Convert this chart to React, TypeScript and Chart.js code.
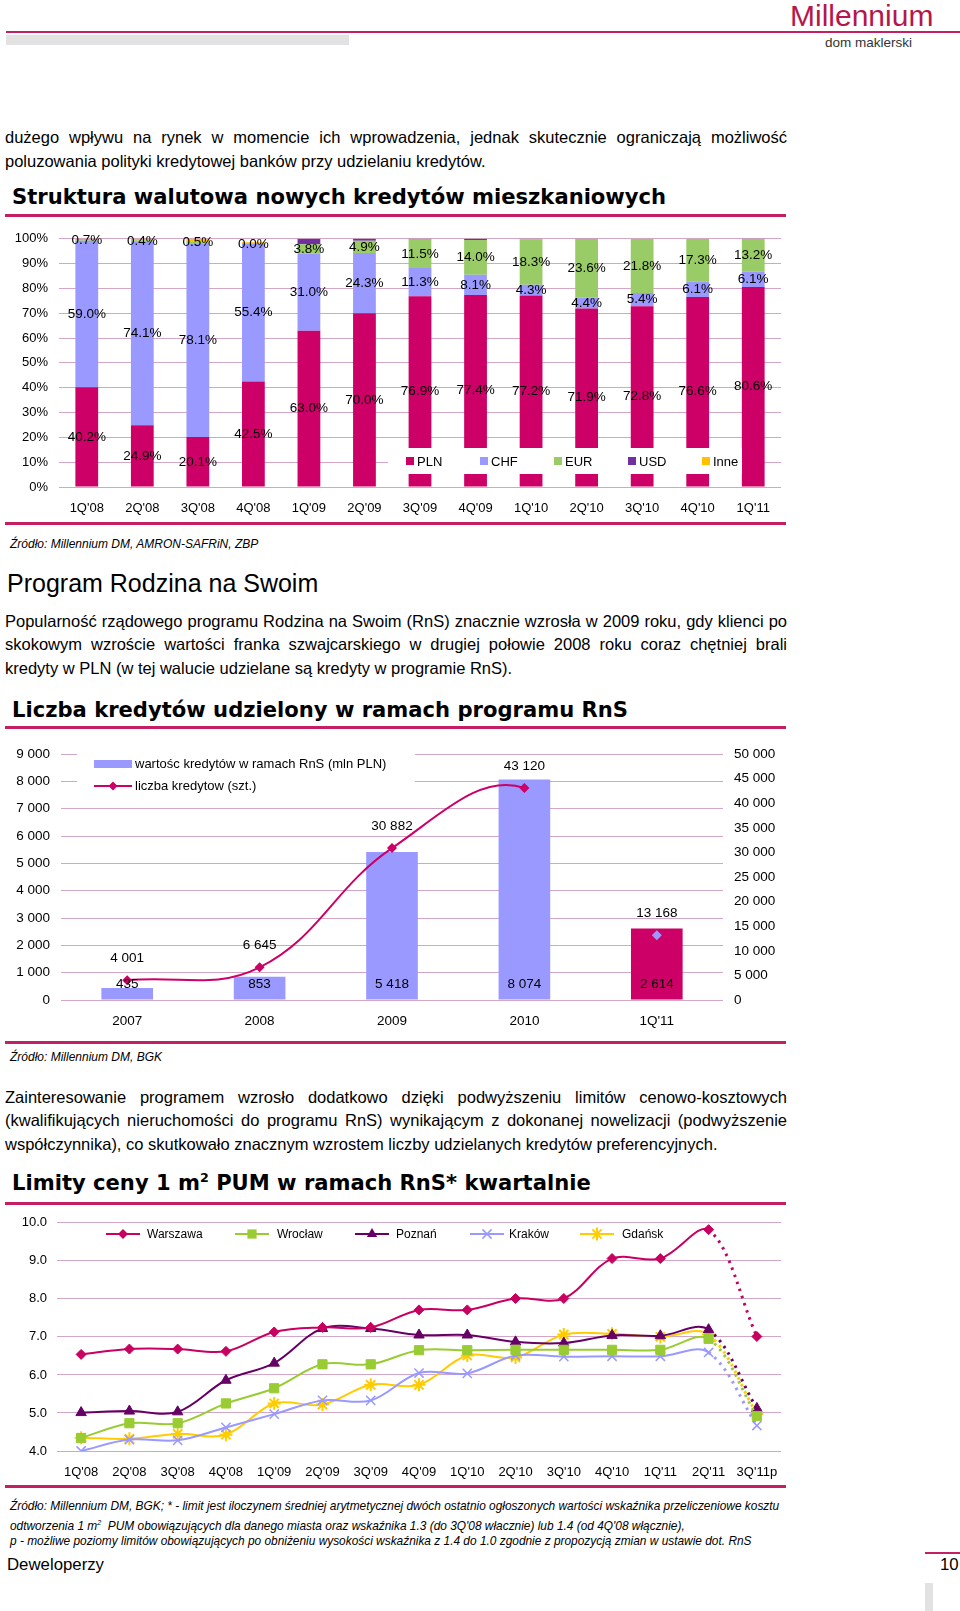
import React, { useEffect, useRef } from "react";
import { Chart, registerables } from "chart.js";

Chart.register(...registerables);

const FONT = '"Liberation Sans", Arial, Helvetica, sans-serif';
const HFONT = '"DejaVu Sans", Verdana, sans-serif';
const PINK = "#C41F63";
const GRID = "#D3A5C6";

// ---------- Chart 1: currency structure ----------
const quarters = ["1Q'08", "2Q'08", "3Q'08", "4Q'08", "1Q'09", "2Q'09", "3Q'09", "4Q'09", "1Q'10", "2Q'10", "3Q'10", "4Q'10", "1Q'11"];
const plnShare = [40.2, 24.9, 20.1, 42.5, 63.0, 70.0, 76.9, 77.4, 77.2, 71.9, 72.8, 76.6, 80.6];
const chfShare = [59.0, 74.1, 78.1, 55.4, 31.0, 24.3, 11.3, 8.1, 4.3, 4.4, 5.4, 6.1, 6.1];
const eurShare = [0.7, 0.4, 0.5, 0.0, 3.8, 4.9, 11.5, 14.0, 18.3, 23.6, 21.8, 17.3, 13.2];
const usdShare = [0, 0, 0, 0, 2.2, 0.8, 0.3, 0.5, 0.2, 0.1, 0, 0, 0.1];
const otherShare = [0.1, 0.6, 1.3, 0.7, 0, 0, 0, 0, 0, 0, 0, 0, 0];

// ---------- Chart 2: RnS loans ----------
const rnsPeriods = ["2007", "2008", "2009", "2010", "1Q'11"];
const rnsValueMln = [435, 853, 5418, 8074, 2614];
const rnsCount = [4001, 6645, 30882, 43120, 13168];

// ---------- Chart 3: price limits ----------
const limitQuarters = ["1Q'08", "2Q'08", "3Q'08", "4Q'08", "1Q'09", "2Q'09", "3Q'09", "4Q'09", "1Q'10", "2Q'10", "3Q'10", "4Q'10", "1Q'11", "2Q'11", "3Q'11p"];
const warszawa = [6.54, 6.68, 6.68, 6.62, 7.13, 7.25, 7.25, 7.71, 7.71, 8.01, 8.01, 9.06, 9.06, 9.82, 7.01];
const wroclaw = [4.34, 4.73, 4.73, 5.25, 5.65, 6.28, 6.28, 6.65, 6.65, 6.66, 6.66, 6.66, 6.66, 6.95, 4.92];
const poznan = [5.01, 5.05, 5.03, 5.86, 6.31, 7.22, 7.22, 7.05, 7.05, 6.87, 6.84, 7.04, 7.03, 7.19, 5.12];
const krakow = [4.0, 4.3, 4.28, 4.62, 4.97, 5.33, 5.33, 6.05, 6.04, 6.51, 6.48, 6.49, 6.49, 6.59, 4.67];
const gdansk = [4.35, 4.32, 4.45, 4.43, 5.25, 5.22, 5.74, 5.74, 6.51, 6.46, 7.06, 7.08, 7.0, 7.06, 4.97];

const fmtSpace = (n: number) => String(Math.round(n)).replace(/\B(?=(\d{3})+(?!\d))/g, " ");

function drawMarker(ctx: CanvasRenderingContext2D, style: string, x: number, y: number, r: number, color: string, lw: number) {
  ctx.save();
  ctx.fillStyle = color;
  ctx.strokeStyle = color;
  ctx.lineWidth = lw;
  ctx.beginPath();
  if (style === "rectRot") {
    ctx.moveTo(x, y - r); ctx.lineTo(x + r, y); ctx.lineTo(x, y + r); ctx.lineTo(x - r, y); ctx.closePath(); ctx.fill();
  } else if (style === "rect") {
    const s = r * Math.SQRT1_2;
    ctx.fillRect(x - s, y - s, 2 * s, 2 * s);
  } else if (style === "triangle") {
    ctx.moveTo(x, y - r); ctx.lineTo(x + r * 0.87, y + r * 0.5); ctx.lineTo(x - r * 0.87, y + r * 0.5); ctx.closePath(); ctx.fill();
  } else if (style === "crossRot") {
    const d = r * Math.SQRT1_2;
    ctx.moveTo(x - d, y - d); ctx.lineTo(x + d, y + d); ctx.moveTo(x + d, y - d); ctx.lineTo(x - d, y + d); ctx.stroke();
  } else if (style === "star") {
    const d = r * Math.SQRT1_2;
    ctx.moveTo(x - d, y - d); ctx.lineTo(x + d, y + d); ctx.moveTo(x + d, y - d); ctx.lineTo(x - d, y + d);
    ctx.moveTo(x, y - r); ctx.lineTo(x, y + r); ctx.moveTo(x - r, y); ctx.lineTo(x + r, y); ctx.stroke();
  }
  ctx.restore();
}

function makeShareChart(canvas: HTMLCanvasElement) {
  const series = [
    { label: "PLN", data: plnShare, color: "#CC0066", labeled: true },
    { label: "CHF", data: chfShare, color: "#9999FF", labeled: true },
    { label: "EUR", data: eurShare, color: "#99CC66", labeled: true },
    { label: "USD", data: usdShare, color: "#7030A0", labeled: false },
    { label: "Inne", data: otherShare, color: "#FFC000", labeled: false },
  ];
  const overlay = {
    id: "shareOverlay",
    afterDatasetsDraw(chart: any) {
      const ctx = chart.ctx as CanvasRenderingContext2D;
      ctx.save();
      ctx.fillStyle = "#fff";
      ctx.fillRect(388, 228, 354, 26);
      ctx.font = `13px ${FONT}`;
      ctx.textBaseline = "middle";
      ctx.textAlign = "left";
      series.forEach((s, i) => {
        const x = 406 + i * 74;
        ctx.fillStyle = s.color;
        ctx.fillRect(x, 237, 8, 8);
        ctx.fillStyle = "#000";
        ctx.fillText(s.label, x + 11, 242);
      });
      ctx.font = `13.5px ${FONT}`;
      ctx.textAlign = "center";
      ctx.fillStyle = "#000";
      series.forEach((s, di) => {
        if (!s.labeled) return;
        chart.getDatasetMeta(di).data.forEach((bar: any, i: number) => {
          ctx.fillText(s.data[i].toFixed(1) + "%", bar.x, (bar.y + bar.base) / 2);
        });
      });
      ctx.restore();
    },
  };
  return new Chart(canvas, {
    type: "bar",
    data: {
      labels: quarters,
      datasets: series.map((s) => ({
        label: s.label,
        data: s.data,
        backgroundColor: s.color,
        borderWidth: 0,
        categoryPercentage: 1,
        barPercentage: 0.41,
      })),
    },
    options: {
      responsive: false,
      animation: false,
      devicePixelRatio: 1,
      layout: { padding: { top: 14, right: 19, bottom: 0, left: 0 } },
      plugins: { legend: { display: false }, tooltip: { enabled: false } },
      scales: {
        x: {
          stacked: true,
          grid: { display: false, drawTicks: false },
          border: { display: false },
          ticks: { padding: 14, color: "#000", font: { size: 13, family: FONT } },
          afterFit: (s: any) => { s.height = 33; },
        },
        y: {
          stacked: true,
          min: 0,
          max: 100,
          ticks: { stepSize: 10, padding: 11, color: "#000", font: { size: 13, family: FONT }, callback: (v: any) => v + "%" },
          grid: { color: GRID, drawTicks: false },
          border: { display: false },
          afterFit: (s: any) => { s.width = 59; },
        },
      },
    },
    plugins: [overlay],
  } as any);
}

function makeRnsChart(canvas: HTMLCanvasElement) {
  const overlay = {
    id: "rnsOverlay",
    beforeDatasetsDraw(chart: any) {
      const ctx = chart.ctx as CanvasRenderingContext2D;
      ctx.save();
      ctx.fillStyle = "#fff";
      ctx.fillRect(77, 17, 338, 45);
      ctx.fillStyle = "#9999FF";
      ctx.fillRect(94, 25, 38, 8);
      ctx.strokeStyle = "#CC0066";
      ctx.lineWidth = 2;
      ctx.beginPath(); ctx.moveTo(94, 51); ctx.lineTo(132, 51); ctx.stroke();
      drawMarker(ctx, "rectRot", 113, 51, 4.5, "#CC0066", 1);
      ctx.fillStyle = "#000";
      ctx.font = `13px ${FONT}`;
      ctx.textBaseline = "middle";
      ctx.textAlign = "left";
      ctx.fillText("wartośc kredytów w ramach RnS (mln PLN)", 135, 29);
      ctx.fillText("liczba kredytow (szt.)", 135, 51);
      ctx.restore();
    },
    afterDatasetsDraw(chart: any) {
      const ctx = chart.ctx as CanvasRenderingContext2D;
      ctx.save();
      ctx.fillStyle = "#000";
      ctx.font = `13.5px ${FONT}`;
      ctx.textBaseline = "middle";
      ctx.textAlign = "center";
      chart.getDatasetMeta(1).data.forEach((bar: any, i: number) => {
        ctx.fillText(fmtSpace(rnsValueMln[i]), bar.x, 249);
      });
      chart.getDatasetMeta(0).data.forEach((pt: any, i: number) => {
        ctx.fillText(fmtSpace(rnsCount[i]), pt.x, pt.y - 22);
      });
      ctx.restore();
    },
  };
  const last = rnsCount.length - 1;
  return new Chart(canvas, {
    type: "bar",
    data: {
      labels: rnsPeriods,
      datasets: [
        {
          type: "line",
          label: "liczba kredytow (szt.)",
          data: rnsCount,
          yAxisID: "y1",
          order: 0,
          borderColor: "#CC0066",
          borderWidth: 2,
          tension: 0.4,
          pointStyle: "rectRot",
          pointRadius: 5,
          pointBorderWidth: 0,
          pointBackgroundColor: rnsCount.map((_, i) => (i === last ? "#9999FF" : "#CC0066")),
          pointBorderColor: rnsCount.map((_, i) => (i === last ? "#9999FF" : "#CC0066")),
          segment: { borderColor: (c: any) => (c.p1DataIndex === last ? "rgba(0,0,0,0)" : undefined) },
        },
        {
          type: "bar",
          label: "wartośc kredytów w ramach RnS (mln PLN)",
          data: rnsValueMln,
          yAxisID: "y",
          order: 1,
          backgroundColor: rnsValueMln.map((_, i) => (i === last ? "#CC0066" : "#9999FF")),
          borderWidth: 0,
          categoryPercentage: 1,
          barPercentage: 0.39,
        },
      ],
    },
    options: {
      responsive: false,
      animation: false,
      devicePixelRatio: 1,
      layout: { padding: { top: 14, right: 0, bottom: 0, left: 0 } },
      plugins: { legend: { display: false }, tooltip: { enabled: false } },
      scales: {
        x: {
          offset: true,
          grid: { display: false, drawTicks: false },
          border: { display: false },
          ticks: { padding: 13, color: "#000", font: { size: 13.5, family: FONT } },
          afterFit: (s: any) => { s.height = 35; },
        },
        y: {
          position: "left",
          min: 0,
          max: 9000,
          ticks: { stepSize: 1000, padding: 11, color: "#000", font: { size: 13.5, family: FONT }, callback: (v: any) => fmtSpace(v) },
          grid: { color: GRID, drawTicks: false },
          border: { display: false },
          afterFit: (s: any) => { s.width = 61; },
        },
        y1: {
          position: "right",
          min: 0,
          max: 50000,
          ticks: { stepSize: 5000, padding: 11, color: "#000", font: { size: 13.5, family: FONT }, callback: (v: any) => fmtSpace(v) },
          grid: { display: false, drawTicks: false },
          border: { display: false },
          afterFit: (s: any) => { s.width = 77; },
        },
      },
    },
    plugins: [overlay],
  } as any);
}

function makeLimitChart(canvas: HTMLCanvasElement) {
  const series = [
    { label: "Warszawa", data: warszawa, color: "#C8005F", style: "rectRot", r: 5, lw: 1, lx: 106, tx: 147 },
    { label: "Wrocław", data: wroclaw, color: "#99CC33", style: "rect", r: 6.5, lw: 1, lx: 235, tx: 277 },
    { label: "Poznań", data: poznan, color: "#660066", style: "triangle", r: 6, lw: 1, lx: 355, tx: 396 },
    { label: "Kraków", data: krakow, color: "#9999FF", style: "crossRot", r: 6.5, lw: 1.5, lx: 470, tx: 509 },
    { label: "Gdańsk", data: gdansk, color: "#FFCC00", style: "star", r: 6.5, lw: 2, lx: 580, tx: 622 },
  ];
  const last = limitQuarters.length - 1;
  const overlay = {
    id: "limitLegend",
    afterDatasetsDraw(chart: any) {
      const ctx = chart.ctx as CanvasRenderingContext2D;
      ctx.save();
      ctx.font = `12px ${FONT}`;
      ctx.textBaseline = "middle";
      ctx.textAlign = "left";
      series.forEach((s) => {
        ctx.strokeStyle = s.color;
        ctx.lineWidth = 2;
        ctx.beginPath(); ctx.moveTo(s.lx, 29); ctx.lineTo(s.lx + 34, 29); ctx.stroke();
        drawMarker(ctx, s.style, s.lx + 17, 29, s.r, s.color, s.lw);
        ctx.fillStyle = "#000";
        ctx.fillText(s.label, s.tx, 30);
      });
      ctx.restore();
    },
  };
  return new Chart(canvas, {
    type: "line",
    data: {
      labels: limitQuarters,
      datasets: series.map((s) => ({
        label: s.label,
        data: s.data,
        borderColor: s.color,
        backgroundColor: s.color,
        borderWidth: 2,
        tension: 0.35,
        pointStyle: s.style,
        pointRadius: s.r,
        pointBorderWidth: s.lw,
        pointBackgroundColor: s.color,
        pointBorderColor: s.color,
        segment: {
          borderDash: (c: any) => (c.p1DataIndex === last ? [2.5, 5] : undefined),
          borderWidth: (c: any) => (c.p1DataIndex === last ? 3 : undefined),
        },
      })),
    },
    options: {
      responsive: false,
      animation: false,
      devicePixelRatio: 1,
      layout: { padding: { top: 12, right: 19, bottom: 0, left: 0 } },
      plugins: { legend: { display: false }, tooltip: { enabled: false } },
      scales: {
        x: {
          offset: true,
          grid: { display: false, drawTicks: false },
          border: { display: false },
          ticks: { padding: 14, color: "#000", font: { size: 13, family: FONT }, maxRotation: 0, autoSkip: false },
          afterFit: (s: any) => { s.height = 34; },
        },
        y: {
          min: 4,
          max: 10,
          ticks: { stepSize: 1, padding: 10, color: "#000", font: { size: 13, family: FONT }, callback: (v: any) => Number(v).toFixed(1) },
          grid: { color: GRID, drawTicks: false },
          border: { display: false },
          afterFit: (s: any) => { s.width = 57; },
        },
      },
    },
    plugins: [overlay],
  } as any);
}

function ChartCanvas({ make, left, top, width, height }: { make: (c: HTMLCanvasElement) => Chart; left: number; top: number; width: number; height: number }) {
  const ref = useRef<HTMLCanvasElement>(null);
  useEffect(() => {
    const c = make(ref.current as HTMLCanvasElement);
    return () => c.destroy();
  }, []);
  return <canvas ref={ref} width={width} height={height} style={{ position: "absolute", left, top, width, height }} />;
}

type TProps = { x: number; y: number; size: number; children: React.ReactNode; bold?: boolean; italic?: boolean; font?: string; w?: number; justify?: boolean; color?: string };
function T({ x, y, size, children, bold, italic, font, w, justify, color }: TProps) {
  const lh = Math.round(size * 1.4);
  return (
    <div
      style={{
        position: "absolute",
        left: x,
        top: y - lh / 2,
        width: w,
        lineHeight: `${lh}px`,
        height: lh,
        fontSize: size,
        fontFamily: font || FONT,
        fontWeight: bold ? "bold" : "normal",
        fontStyle: italic ? "italic" : "normal",
        whiteSpace: "nowrap",
        textAlign: justify ? "justify" : "left",
        textAlignLast: justify ? "justify" : "auto",
        color: color || "#000",
      } as React.CSSProperties}
    >
      {children}
    </div>
  );
}

const Line = ({ x, y, w, h, c }: { x: number; y: number; w: number; h: number; c: string }) => (
  <div style={{ position: "absolute", left: x, top: y, width: w, height: h, background: c }} />
);

const Sup = ({ children }: { children: React.ReactNode }) => (
  <span style={{ fontSize: "0.6em", position: "relative", top: "-0.6em", lineHeight: 0 }}>{children}</span>
);

export default function App() {
  const BODY = 16.5;
  const HS = 21.1;
  const FN = 11.9;
  return (
    <div style={{ position: "absolute", left: 0, top: 0, width: 960, height: 1611, overflow: "hidden", background: "#fff" }}>
      {/* header */}
      <T x={790} y={16} size={30} color="#B5174B">Millennium</T>
      <Line x={6} y={31} w={954} h={2} c={PINK} />
      <Line x={6} y={35} w={343} h={10} c="#E2E2E2" />
      <T x={825} y={42} size={13.5} color="#333">dom maklerski</T>

      {/* paragraph 1 */}
      <T x={5} y={137} size={BODY} w={782} justify>dużego wpływu na rynek w momencie ich wprowadzenia, jednak skutecznie ograniczają możliwość</T>
      <T x={5} y={161} size={BODY}>poluzowania polityki kredytowej banków przy udzielaniu kredytów.</T>

      <T x={12} y={197} size={HS} bold font={HFONT}>Struktura walutowa nowych kredytów mieszkaniowych</T>
      <Line x={5} y={214} w={781} h={3} c={PINK} />
      <ChartCanvas make={makeShareChart} left={0} top={220} width={800} height={300} />
      <Line x={5} y={522} w={781} h={3} c={PINK} />
      <T x={10} y={544} size={12} italic>Źródło: Millennium DM, AMRON-SAFRiN, ZBP</T>

      <T x={7} y={583} size={25}>Program Rodzina na Swoim</T>
      <T x={5} y={621} size={BODY} w={782} justify>Popularność rządowego programu Rodzina na Swoim (RnS) znacznie wzrosła w 2009 roku, gdy klienci po</T>
      <T x={5} y={644} size={BODY} w={782} justify>skokowym wzroście wartości franka szwajcarskiego w drugiej połowie 2008 roku coraz chętniej brali</T>
      <T x={5} y={668} size={BODY}>kredyty w PLN (w tej walucie udzielane są kredyty w programie RnS).</T>

      <T x={12} y={710} size={HS} bold font={HFONT}>Liczba kredytów udzielony w ramach programu RnS</T>
      <Line x={5} y={726} w={781} h={3} c={PINK} />
      <ChartCanvas make={makeRnsChart} left={0} top={735} width={800} height={300} />
      <Line x={5} y={1041} w={781} h={3} c={PINK} />
      <T x={10} y={1057} size={12} italic>Źródło: Millennium DM, BGK</T>

      <T x={5} y={1097} size={BODY} w={782} justify>Zainteresowanie programem wzrosło dodatkowo dzięki podwyższeniu limitów cenowo-kosztowych</T>
      <T x={5} y={1120} size={BODY} w={782} justify>(kwalifikujących nieruchomości do programu RnS) wynikającym z dokonanej nowelizacji (podwyższenie</T>
      <T x={5} y={1144} size={BODY}>współczynnika), co skutkowało znacznym wzrostem liczby udzielanych kredytów preferencyjnych.</T>

      <T x={12} y={1183} size={HS} bold font={HFONT}>Limity ceny 1 m<Sup>2</Sup> PUM w ramach RnS* kwartalnie</T>
      <Line x={5} y={1202} w={781} h={3} c={PINK} />
      <ChartCanvas make={makeLimitChart} left={0} top={1205} width={800} height={280} />
      <Line x={5} y={1485} w={781} h={3} c={PINK} />
      <T x={10} y={1506} size={FN} italic>Źródło: Millennium DM, BGK; * - limit jest iloczynem średniej arytmetycznej dwóch ostatnio ogłoszonych wartości wskaźnika przeliczeniowe kosztu</T>
      <T x={10} y={1526} size={FN} italic>odtworzenia 1 m<Sup>2</Sup>&nbsp; PUM obowiązujących dla danego miasta oraz wskaźnika 1.3 (do 3Q'08 włacznie) lub 1.4 (od 4Q'08 włącznie),</T>
      <T x={10} y={1541} size={FN} italic>p - możliwe poziomy limitów obowiązujących po obniżeniu wysokości wskaźnika z 1.4 do 1.0 zgodnie z propozycją zmian w ustawie dot. RnS</T>

      <T x={7} y={1565} size={16.8}>Deweloperzy</T>
      <Line x={925} y={1552} w={35} h={2} c={PINK} />
      <T x={940} y={1565} size={16.8}>10</T>
      <Line x={925} y={1583} w={8} h={28} c="#E2E2E2" />
    </div>
  );
}
